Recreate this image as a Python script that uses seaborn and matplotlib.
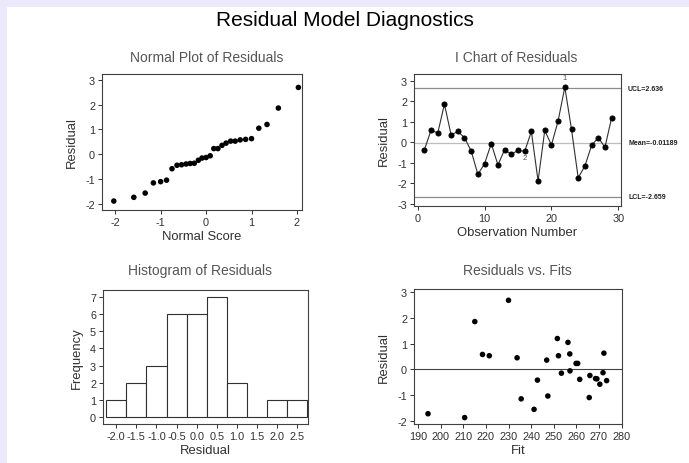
import numpy as np
import pandas as pd
import matplotlib
matplotlib.use("Agg")
import matplotlib.pyplot as plt
import matplotlib.transforms as mtransforms
from matplotlib.patches import Rectangle
import seaborn as sns

# residuals in observation order
residuals = [-0.37, 0.60, 0.45, 1.86, 0.36, 0.53, 0.23, -0.42, -1.56, -1.04,
             -0.06, -1.10, -0.36, -0.58, -0.39, -0.44, 0.53, -1.88, 0.58, -0.13,
             1.05, 2.69, 0.63, -1.73, -1.15, -0.15, 0.23, -0.24, 1.20]
# fitted values for the same observations (read from Residuals vs. Fits)
fits = [269.1, 257.1, 233.8, 215.1, 246.9, 252.1, 259.9, 242.8, 241.3, 247.4,
        257.2, 265.7, 268.5, 270.4, 261.5, 273.4, 221.5, 210.6, 218.5, 271.8,
        256.3, 230.0, 272.2, 194.4, 235.6, 253.4, 260.6, 266.0, 251.6]
# normal scores of the sorted residuals
normal_scores = [-2.03, -1.59, -1.34, -1.16, -1.00, -0.87, -0.75, -0.64, -0.54, -0.44,
                 -0.35, -0.26, -0.17, -0.09, 0.00, 0.09, 0.17, 0.26, 0.35, 0.44,
                 0.54, 0.64, 0.75, 0.87, 1.00, 1.16, 1.34, 1.59, 2.03]
hist_edges = [-2.25, -1.75, -1.25, -0.75, -0.25, 0.25, 0.75, 1.25, 1.75, 2.25, 2.75]
hist_ticks = [-2.0, -1.5, -1.0, -0.5, 0.0, 0.5, 1.0, 1.5, 2.0, 2.5]
ucl = 2.636
mean = -0.01189
lcl = -2.659

df = pd.DataFrame({
    'obs': np.arange(1, len(residuals) + 1),
    'resid': residuals,
    'fit': fits,
})
df_norm = pd.DataFrame({'score': normal_scores, 'resid': sorted(residuals)})

sns.set_style("white")
plt.rcParams['font.family'] = ['Liberation Sans', 'DejaVu Sans']
plt.rcParams['axes.unicode_minus'] = False

W, H = 689, 464
fig = plt.figure(figsize=(W / 100, H / 100), dpi=100)
fig.patch.set_facecolor('#ebe9fb')
fig.patches.append(Rectangle((7 / W, 0), 1, 1 - 8 / H, transform=fig.transFigure,
                             facecolor='white', edgecolor='none', zorder=-1))


def rect(l, t, r, b):
    return [l / W, 1 - b / H, (r - l) / W, (b - t) / H]


def style(ax):
    for s in ax.spines.values():
        s.set_color('#404040')
        s.set_linewidth(0.8)
    ax.tick_params(axis='both', direction='out', length=3, width=0.7,
                   colors='#303030', labelsize=7.8, pad=2, left=True, bottom=True)
    ax.xaxis.label.set_color('#303030')
    ax.yaxis.label.set_color('#303030')


title_kw = dict(fontsize=10, color='#555555', ha='center', va='center')
label_kw = dict(fontsize=9.4)

fig.text(345 / W, 1 - 20 / H, "Residual Model Diagnostics", fontsize=15,
         ha='center', va='center', color='black')

# Normal plot
ax1 = fig.add_axes(rect(102, 75, 302, 211))
sns.scatterplot(data=df_norm, x='score', y='resid', ax=ax1, color='black',
                s=16, edgecolor='none')
ax1.set_xlim(-2.29, 2.11)
ax1.set_ylim(-2.24, 3.23)
ax1.set_xticks([-2, -1, 0, 1, 2])
ax1.set_yticks([-2, -1, 0, 1, 2, 3])
ax1.set_xlabel("Normal Score", labelpad=2, **label_kw)
ax1.set_ylabel("Residual", labelpad=5, **label_kw)
style(ax1)
fig.text(207 / W, 1 - 58 / H, "Normal Plot of Residuals", **title_kw)

# I chart
ax2 = fig.add_axes(rect(414, 75, 621, 207))
ax2.axhline(ucl, color='#8c8c8c', lw=0.9, zorder=1)
ax2.axhline(lcl, color='#8c8c8c', lw=0.9, zorder=1)
ax2.axhline(mean, color='#bdbdbd', lw=0.9, zorder=1)
sns.lineplot(data=df, x='obs', y='resid', ax=ax2, color='#303030', lw=0.8,
             marker='o', markersize=3.6, markerfacecolor='black',
             markeredgecolor='black', zorder=3)
ax2.set_xlim(-0.55, 30.4)
ax2.set_ylim(-3.1, 3.33)
ax2.set_xticks([0, 10, 20, 30])
ax2.set_yticks([-3, -2, -1, 0, 1, 2, 3])
ax2.set_xlabel("Observation Number", labelpad=2, **label_kw)
ax2.set_ylabel("Residual", labelpad=5, **label_kw)
style(ax2)
trans = mtransforms.blended_transform_factory(ax2.transAxes, ax2.transData)
for val, txt in [(ucl, "UCL=2.636"), (mean, "Mean=-0.01189"), (lcl, "LCL=-2.659")]:
    ax2.text(1.034, val, txt, transform=trans, fontsize=5.0, ha='left',
             va='center', color='#202020', fontweight='bold')
ax2.text(df['obs'][21], df['resid'][21] + 0.3, "1", fontsize=5.5,
         ha='center', va='bottom', color='#505050')
ax2.text(df['obs'][15], df['resid'][15] - 0.12, "2", fontsize=5.5,
         ha='center', va='top', color='#505050')
fig.text(516 / W, 1 - 58 / H, "I Chart of Residuals", **title_kw)

# Histogram
ax3 = fig.add_axes(rect(103, 291, 308, 425))
sns.histplot(residuals, bins=hist_edges, ax=ax3, color='white',
             edgecolor='#303030', linewidth=0.8, alpha=1)
ax3.set_xlim(-2.33, 2.77)
ax3.set_ylim(-0.39, 7.39)
ax3.set_xticks(hist_ticks)
ax3.set_xticklabels([f"{t:.1f}" for t in hist_ticks])
ax3.set_yticks(range(0, 8))
ax3.set_xlabel("Residual", labelpad=2, **label_kw)
ax3.set_ylabel("Frequency", labelpad=5, **label_kw)
style(ax3)
fig.text(200 / W, 1 - 271 / H, "Histogram of Residuals", **title_kw)

# Residuals vs fits
ax4 = fig.add_axes(rect(414, 290, 622, 425))
ax4.axhline(0, color='#404040', lw=0.8, zorder=1)
sns.scatterplot(data=df, x='fit', y='resid', ax=ax4, color='black', s=16,
                edgecolor='none', zorder=3)
ax4.set_xlim(188.2, 280.2)
ax4.set_ylim(-2.13, 3.13)
ax4.set_xticks(range(190, 281, 10))
ax4.set_yticks([-2, -1, 0, 1, 2, 3])
ax4.set_xlabel("Fit", labelpad=2, **label_kw)
ax4.set_ylabel("Residual", labelpad=5, **label_kw)
style(ax4)
fig.text(517 / W, 1 - 271 / H, "Residuals vs. Fits", **title_kw)

fig.savefig("out.png", dpi=100, facecolor=fig.get_facecolor())
